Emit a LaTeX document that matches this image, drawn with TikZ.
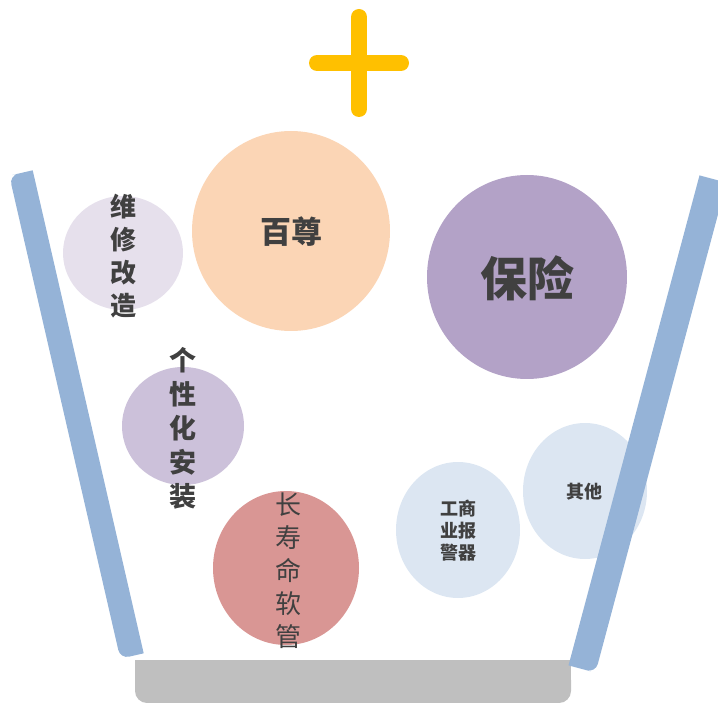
\documentclass[tikz,border=0pt]{standalone}
\usepackage{fontspec}
\newfontfamily\cjk{Noto Sans CJK SC}
\definecolor{barblue}{HTML}{95B3D7}
\definecolor{plusc}{HTML}{FFC000}
\definecolor{basegray}{HTML}{BFBFBF}
\definecolor{txt}{HTML}{404040}
\definecolor{cA}{HTML}{E6E0EC}
\definecolor{cB}{HTML}{FBD5B5}
\definecolor{cC}{HTML}{B3A2C7}
\definecolor{cD}{HTML}{CCC1DA}
\definecolor{cE}{HTML}{D99694}
\definecolor{cF}{HTML}{DCE6F2}
\tikzset{
  lbl/.style={text=txt, font=\cjk\bfseries, align=center, inner sep=0pt},
  bar/.style={fill=barblue},
  plusbar/.style={draw=plusc, line width=16pt, line cap=round}
}
\begin{document}
\begin{tikzpicture}[x=1pt,y=-1pt]
\useasboundingbox (0,0) rectangle (718,703);
% circles
\fill[cA] (123,253) ellipse [x radius=60, y radius=57];
\fill[cB] (291,231) ellipse [x radius=99, y radius=100];
\fill[cC] (527,277) ellipse [x radius=100, y radius=102];
\fill[cD] (183,426) ellipse [x radius=61, y radius=59];
\fill[cE] (286,568) ellipse [x radius=73, y radius=77];
\fill[cF] (458,530) ellipse [x radius=62, y radius=68];
\fill[cF] (585,491) ellipse [x radius=62, y radius=68];
% plus
\coordinate (pt) at (359,17);
\coordinate (pb) at (359,109);
\coordinate (pl) at (317,63);
\coordinate (pr) at (401,63);
\draw[plusbar] (pt) -- (pb);
\draw[plusbar] (pl) -- (pr);
% base
\fill[basegray] (135,660) rectangle (571,680);
\fill[basegray, rounded corners=12pt] (135,668) rectangle (571,703);
% left bar
\coordinate (lTL) at (9.3,175.7);
\coordinate (lTR) at (32.7,170.3);
\coordinate (lBL) at (120.3,658.7);
\coordinate (lBR) at (143.7,653.3);
\fill[bar] (lTR) -- (lBR) -- (132,656) [rounded corners=9pt] -- (lBL) -- (lTL) -- (21,173) [sharp corners] -- cycle;
% right bar
\coordinate (rTL) at (699.5,175.4);
\coordinate (rTR) at (726.5,182.6);
\coordinate (rBL) at (568.5,665.4);
\coordinate (rBR) at (595.5,672.6);
\fill[bar] (rTL) -- (rTR) -- (661,427.6) [rounded corners=9pt] -- (rBR) -- (582,669) [sharp corners] -- (rBL) -- cycle;
% labels
\node[lbl, font=\cjk\bfseries\fontsize{26}{33}\selectfont] (t1) at (123,256) {维\\修\\改\\造};
\node[lbl, font=\cjk\bfseries\fontsize{31}{31}\selectfont] (t2) at (291,232) {百尊};
\node[lbl, font=\cjk\bfseries\fontsize{47}{47}\selectfont] (t3) at (527,278) {保险};
\node[lbl, font=\cjk\bfseries\fontsize{27}{34}\selectfont] (t4) at (183,428) {个\\性\\化\\安\\装};
\node[lbl, font=\cjk\fontsize{26}{33}\selectfont] (t5) at (288,571) {长\\寿\\命\\软\\管};
\node[lbl, font=\cjk\bfseries\fontsize{18}{22}\selectfont] (t6) at (458,531) {工商\\业报\\警器};
\node[lbl, font=\cjk\bfseries\fontsize{18}{18}\selectfont] (t7) at (584,492) {其他};
\end{tikzpicture}
\end{document}
